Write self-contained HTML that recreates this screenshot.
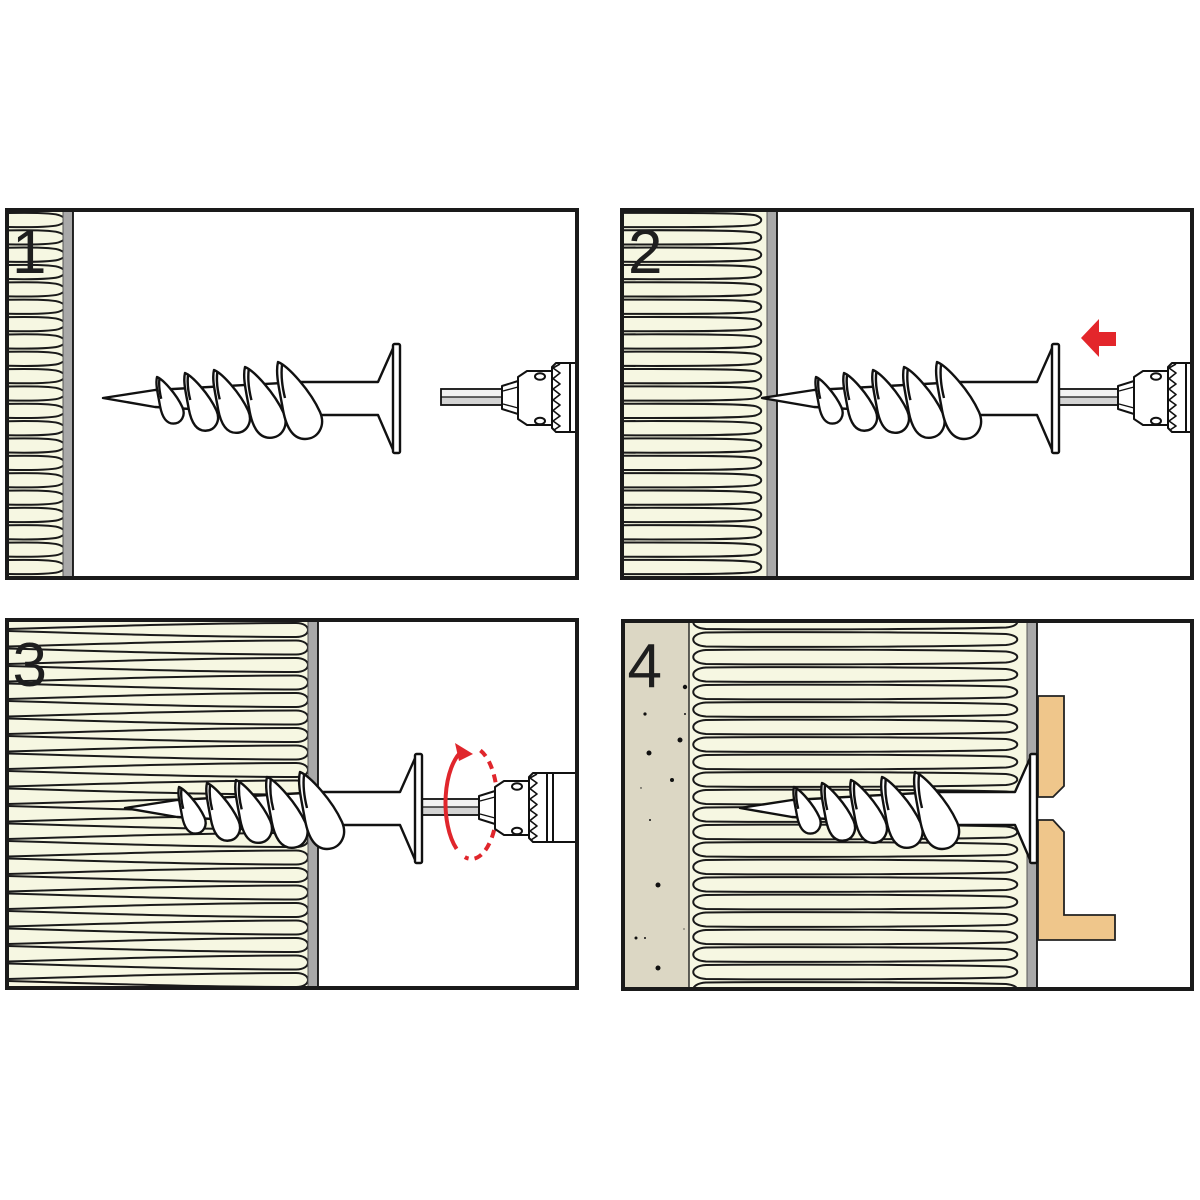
<!DOCTYPE html>
<html><head><meta charset="utf-8">
<style>html,body{margin:0;padding:0;background:#fff}svg{display:block}</style>
</head>
<body>
<svg width="1200" height="1200" viewBox="0 0 1200 1200" xmlns="http://www.w3.org/2000/svg" xmlns:xlink="http://www.w3.org/1999/xlink">
<defs>
  <clipPath id="c1"><rect x="7" y="210" width="570" height="368"/></clipPath>
  <clipPath id="c2"><rect x="622" y="210" width="570" height="368"/></clipPath>
  <clipPath id="c3"><rect x="7" y="620" width="570" height="368"/></clipPath>
  <clipPath id="c4"><rect x="623" y="621" width="569" height="368"/></clipPath>

  <path id="o1" d="M0,-7 C30,-7.5 47,-7 52,-4.5 C58.5,-2 58.5,2 52,4.5 C47,7 30,7.5 0,7" fill="none" stroke="#1a1a1a" stroke-width="2"/>
  <path id="o2" d="M600,-7 C700,-7.5 750,-7 756,-4.5 C763,-2 763,2 756,4.5 C750,7 700,7.5 600,7" fill="none" stroke="#1a1a1a" stroke-width="2"/>
  <path id="o3" d="M0,-1 C100,-4 200,-7 288,-7 C304,-7 304,7 288,7 C200,7 100,4 0,1" fill="none" stroke="#1a1a1a" stroke-width="2"/>
  <path id="o4" d="M706,-7 C800,-8 950,-7 1006,-5.5 C1021,-4 1021,4 1006,5.5 C950,7 800,8 706,7 C689,6 689,-6 706,-7 Z" fill="none" stroke="#1a1a1a" stroke-width="2"/>

  <g id="th">
    <path d="M0,0 C10,4 32,28 42,50 C48,64 40,77 27,77 C14,77 8,64 5,48 C2,30 -3,12 0,0 Z" fill="#fff"/>
    <path d="M4,3 C3,12 4,24 7,36" fill="none"/>
  </g>

  <g id="screw" stroke="#111" fill="#fff" stroke-linejoin="round">
    <path d="M103,398 L155,390 L300,382 L378,382 L394,346 L394,452 L378,415 L300,415 L155,407 Z" stroke-width="2.4"/>
    <rect x="393" y="344" width="7" height="109" rx="1.5" stroke-width="2.4"/>
    <use xlink:href="#th" href="#th" transform="translate(157,377) scale(0.605)" stroke-width="3.9"/>
    <use xlink:href="#th" href="#th" transform="translate(185,373) scale(0.75)" stroke-width="3.2"/>
    <use xlink:href="#th" href="#th" transform="translate(214,370) scale(0.816)" stroke-width="2.95"/>
    <use xlink:href="#th" href="#th" transform="translate(245,367) scale(0.92)" stroke-width="2.6"/>
    <use xlink:href="#th" href="#th" transform="translate(278,362)" stroke-width="2.4"/>
  </g>

  <g id="chuck" stroke="#111" stroke-width="2" fill="#fff" stroke-linejoin="round">
    <path d="M556,363 H612 V432 H556 L552,428 V367 Z"/>
    <polyline fill="none" stroke-width="1.6" points="560,364 553,368 560,373 553,378.6 560,384 553,389 560,394.5 553,400 560,405 553,410.5 560,416 553,421 560,426 554,430"/>
    <line x1="570" y1="363" x2="570" y2="432"/>
    <line x1="576" y1="363" x2="576" y2="432"/>
    <path d="M518,377 L527,371 L552,371 L552,425 L527,425 L518,419 Z"/>
    <ellipse cx="540" cy="376.5" rx="5" ry="3.3"/>
    <ellipse cx="540" cy="421" rx="5" ry="3.3"/>
    <path d="M502,386 L518,381 L518,414 L502,409 Z"/>
    <line x1="503" y1="391" x2="518" y2="387" stroke-width="1.4"/>
    <line x1="503" y1="404" x2="518" y2="408" stroke-width="1.4"/>
  </g>
</defs>

<!-- ================= PANEL 1 ================= -->
<g clip-path="url(#c1)">
  <rect x="7" y="210" width="570" height="368" fill="#fff"/>
  <rect x="7" y="210" width="56" height="368" fill="#f6f7e2"/>
  <g transform="translate(8,0)">
    <use href="#o1" y="220"/><use href="#o1" y="237.35"/><use href="#o1" y="254.7"/><use href="#o1" y="272.05"/>
    <use href="#o1" y="289.4"/><use href="#o1" y="306.75"/><use href="#o1" y="324.1"/><use href="#o1" y="341.45"/>
    <use href="#o1" y="358.8"/><use href="#o1" y="376.15"/><use href="#o1" y="393.5"/><use href="#o1" y="410.85"/>
    <use href="#o1" y="428.2"/><use href="#o1" y="445.55"/><use href="#o1" y="462.9"/><use href="#o1" y="480.25"/>
    <use href="#o1" y="497.6"/><use href="#o1" y="514.95"/><use href="#o1" y="532.3"/><use href="#o1" y="549.65"/>
    <use href="#o1" y="567"/>
  </g>
  <rect x="63" y="205" width="10" height="380" fill="#a9a9a9"/>
  <line x1="63" y1="205" x2="63" y2="585" stroke="#555" stroke-width="1"/>
  <line x1="73" y1="205" x2="73" y2="585" stroke="#111" stroke-width="1.8"/>

  <rect x="441" y="389" width="61" height="8" fill="#f2f2f2"/>
  <rect x="441" y="397" width="61" height="8" fill="#d3d3d3"/>
  <rect x="441" y="389" width="61" height="16" fill="none" stroke="#111" stroke-width="1.8"/>
  <line x1="441" y1="397" x2="502" y2="397" stroke="#111" stroke-width="1.3"/>
  <use href="#chuck"/>
  <use href="#screw"/>

  <text x="12" y="273" font-family="Liberation Sans, Arial, sans-serif" font-size="62" fill="#1e1e1e">1</text>
</g>
<rect x="7" y="210" width="570" height="368" fill="none" stroke="#1a1a1a" stroke-width="4"/>

<!-- ================= PANEL 2 ================= -->
<g clip-path="url(#c2)">
  <rect x="622" y="210" width="570" height="368" fill="#fff"/>
  <rect x="622" y="210" width="145" height="368" fill="#f6f7e2"/>
  <g>
    <use href="#o2" y="220"/><use href="#o2" y="237.35"/><use href="#o2" y="254.7"/><use href="#o2" y="272.05"/>
    <use href="#o2" y="289.4"/><use href="#o2" y="306.75"/><use href="#o2" y="324.1"/><use href="#o2" y="341.45"/>
    <use href="#o2" y="358.8"/><use href="#o2" y="376.15"/><use href="#o2" y="393.5"/><use href="#o2" y="410.85"/>
    <use href="#o2" y="428.2"/><use href="#o2" y="445.55"/><use href="#o2" y="462.9"/><use href="#o2" y="480.25"/>
    <use href="#o2" y="497.6"/><use href="#o2" y="514.95"/><use href="#o2" y="532.3"/><use href="#o2" y="549.65"/>
    <use href="#o2" y="567"/>
  </g>
  <rect x="767" y="205" width="10" height="380" fill="#a9a9a9"/>
  <line x1="767" y1="205" x2="767" y2="585" stroke="#555" stroke-width="1"/>
  <line x1="777" y1="205" x2="777" y2="585" stroke="#111" stroke-width="1.8"/>

  <rect x="1059" y="389" width="59" height="8" fill="#f2f2f2"/>
  <rect x="1059" y="397" width="59" height="8" fill="#d3d3d3"/>
  <rect x="1059" y="389" width="59" height="16" fill="none" stroke="#111" stroke-width="1.8"/>
  <line x1="1059" y1="397" x2="1118" y2="397" stroke="#111" stroke-width="1.3"/>
  <use href="#chuck" transform="translate(616,0)"/>
  <use href="#screw" transform="translate(659,0)"/>

  <polygon points="1081,338 1099,319 1099,332 1116,332 1116,346 1099,346 1099,357" fill="#e3262b"/>

  <text x="628" y="273" font-family="Liberation Sans, Arial, sans-serif" font-size="62" fill="#1e1e1e">2</text>
</g>
<rect x="622" y="210" width="570" height="368" fill="none" stroke="#1a1a1a" stroke-width="4"/>

<!-- ================= PANEL 3 ================= -->
<g clip-path="url(#c3)">
  <rect x="7" y="620" width="570" height="368" fill="#fff"/>
  <rect x="7" y="620" width="301" height="368" fill="#f6f7e2"/>
  <g transform="translate(8,0)">
    <use href="#o3" y="612.5"/>
    <use href="#o3" y="630"/><use href="#o3" y="647.5"/><use href="#o3" y="665"/><use href="#o3" y="682.5"/>
    <use href="#o3" y="700"/><use href="#o3" y="717.5"/><use href="#o3" y="735"/><use href="#o3" y="752.5"/>
    <use href="#o3" y="770"/><use href="#o3" y="787.5"/><use href="#o3" y="805"/><use href="#o3" y="822.5"/>
    <use href="#o3" y="840"/><use href="#o3" y="857.5"/><use href="#o3" y="875"/><use href="#o3" y="892.5"/>
    <use href="#o3" y="910"/><use href="#o3" y="927.5"/><use href="#o3" y="945"/><use href="#o3" y="962.5"/>
    <use href="#o3" y="980"/>
  </g>
  <rect x="308" y="615" width="10" height="380" fill="#a9a9a9"/>
  <line x1="308" y1="615" x2="308" y2="995" stroke="#555" stroke-width="1"/>
  <line x1="318" y1="615" x2="318" y2="995" stroke="#111" stroke-width="1.8"/>

  <path d="M480.4,750.4 A26,56 0 0 1 464.8,857.1" fill="none" stroke="#e0262c" stroke-width="4" stroke-dasharray="8 6"/>

  <rect x="422" y="799" width="58" height="8" fill="#f2f2f2"/>
  <rect x="422" y="807" width="58" height="8" fill="#d3d3d3"/>
  <rect x="422" y="799" width="58" height="16" fill="none" stroke="#111" stroke-width="1.8"/>
  <line x1="422" y1="807" x2="480" y2="807" stroke="#111" stroke-width="1.3"/>
  <use href="#chuck" transform="translate(-23,410)"/>
  <use href="#screw" transform="translate(22,410)"/>

  <path d="M456.6,848.9 A26,56 0 0 1 462.6,750.4" fill="none" stroke="#e0262c" stroke-width="4"/>
  <polygon points="455,743 473,754 459,761" fill="#e0262c"/>

  <text x="12.5" y="686" font-family="Liberation Sans, Arial, sans-serif" font-size="62" fill="#1e1e1e">3</text>
</g>
<rect x="7" y="620" width="570" height="368" fill="none" stroke="#1a1a1a" stroke-width="4"/>

<!-- ================= PANEL 4 ================= -->
<g clip-path="url(#c4)">
  <rect x="623" y="621" width="569" height="368" fill="#fff"/>
  <rect x="623" y="621" width="66" height="368" fill="#dcd7c4"/>
  <rect x="689" y="621" width="338" height="368" fill="#f6f7e2"/>
  <line x1="689" y1="615" x2="689" y2="995" stroke="#222" stroke-width="1.4"/>
  <g fill="#111">
    <circle cx="685" cy="687" r="2.2"/><circle cx="645" cy="714" r="1.6"/><circle cx="685" cy="714" r="1"/>
    <circle cx="680" cy="740" r="2.5"/><circle cx="649" cy="753" r="2.5"/><circle cx="672" cy="780" r="2"/>
    <circle cx="641" cy="788" r="0.7"/><circle cx="650" cy="820" r="1"/><circle cx="658" cy="885" r="2.5"/>
    <circle cx="636" cy="938" r="1.5"/><circle cx="645" cy="938" r="1"/><circle cx="658" cy="968" r="2.5"/>
    <circle cx="684" cy="929" r="0.6"/>
  </g>
  <g>
    <use href="#o4" y="622"/><use href="#o4" y="639.5"/><use href="#o4" y="657"/><use href="#o4" y="674.5"/>
    <use href="#o4" y="692"/><use href="#o4" y="709.5"/><use href="#o4" y="727"/><use href="#o4" y="744.5"/>
    <use href="#o4" y="762"/><use href="#o4" y="779.5"/><use href="#o4" y="797"/><use href="#o4" y="814.5"/>
    <use href="#o4" y="832"/><use href="#o4" y="849.5"/><use href="#o4" y="867"/><use href="#o4" y="884.5"/>
    <use href="#o4" y="902"/><use href="#o4" y="919.5"/><use href="#o4" y="937"/><use href="#o4" y="954.5"/>
    <use href="#o4" y="972"/><use href="#o4" y="989.5"/>
  </g>
  <rect x="1027" y="615" width="10" height="380" fill="#a9a9a9"/>
  <line x1="1027" y1="615" x2="1027" y2="995" stroke="#555" stroke-width="1"/>
  <line x1="1037" y1="615" x2="1037" y2="995" stroke="#111" stroke-width="1.8"/>

  <g fill="#efc68b" stroke="#222" stroke-width="1.8" stroke-linejoin="miter">
    <path d="M1038,696 H1064 V786 L1053,797 H1038 Z"/>
    <path d="M1038,820 H1053 L1064,832 V915 H1115 V940 H1038 Z"/>
  </g>

  <use href="#screw" transform="translate(637,410)"/>

  <text x="627.5" y="687" font-family="Liberation Sans, Arial, sans-serif" font-size="62" fill="#1e1e1e">4</text>
</g>
<rect x="623" y="621" width="569" height="368" fill="none" stroke="#1a1a1a" stroke-width="4"/>
</svg>
</body></html>
